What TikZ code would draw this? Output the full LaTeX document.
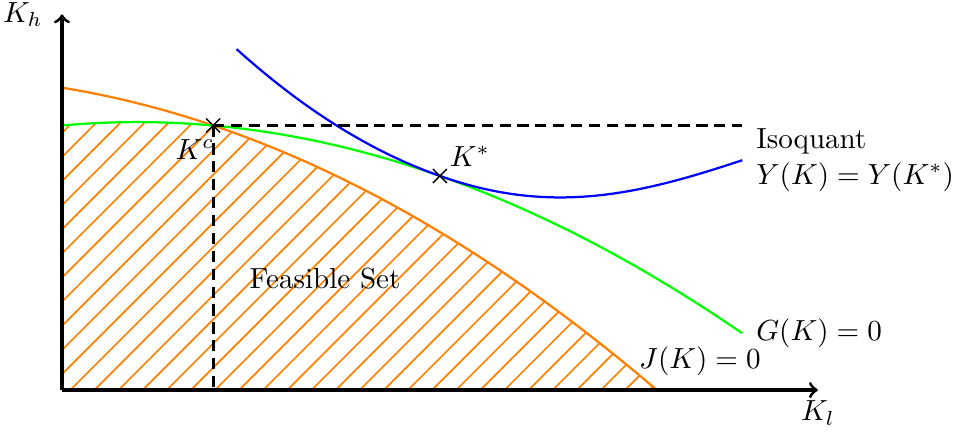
\RequirePackage{fix-cm}
\documentclass[tikz,border=0pt]{standalone}
\usepackage{amsmath}
\usepackage{tikz}
\usetikzlibrary{patterns.meta,shapes.misc}

\begin{document}
\begin{tikzpicture}[x=0.95cm,y=0.95cm,font=\fontsize{10.4}{12.8}\selectfont,
        axis/.style={line width=1.1pt,->},
        curve/.style={line width=0.8pt},
        guide/.style={line width=1pt,dash pattern=on 4pt off 2.4pt},
        marker/.style={cross out,draw,minimum size=4.5pt,inner sep=0pt,line width=0.5pt}]

        \useasboundingbox (-0.82,-0.61) rectangle (11.92,5.16);

        % Feasible set
        \fill[pattern={Lines[angle=45,distance=6.1pt,line width=0.6pt]},pattern color=orange]
            (0,0) -- plot[domain=0:2,samples=20,smooth] (\x,{3.5+0.09*\x-0.0456*\x^2+0.000176*\x^3})
            -- plot[domain=2:7.87,samples=40,smooth] (\x,{4-0.162*\x-0.044*\x^2}) -- cycle;

        % Points
        \coordinate (Kcpt) at (2,3.5);
        \coordinate (Kstar) at (5,2.832);
        \coordinate (Gend) at (9,0.745);
        \coordinate (Yend) at (9,3.04);

        % Curves
        \draw[curve,orange] plot[domain=0:7.87,samples=60,smooth] (\x,{4-0.162*\x-0.044*\x^2});
        \draw[curve,green] plot[domain=0:9,samples=60,smooth] (\x,{3.5+0.09*\x-0.0456*\x^2+0.000176*\x^3});
        \draw[curve,blue] (2.31,4.51) .. controls (3.21,3.70) and (4.1,3.148) .. (Kstar)
            .. controls (6.5,2.30) and (7.67,2.60) .. (Yend);

        % Guides
        \draw[guide] (Kcpt) -- (9,3.5);
        \draw[guide] (Kcpt) -- (2,0);

        % Axes
        \coordinate (O) at (0,0);
        \draw[axis] (O) -- (10,0) node[below] (Kl) {$K_l$};
        \draw[axis] (O) -- (0,4.97) node[left=3pt] (Kh) {$K_h$};

        % Markers
        \node[marker] (Kc) at (Kcpt) {};
        \node[marker] (Ks) at (Kstar) {};

        % Labels
        \node (Kclab) at ([xshift=-6.5pt,yshift=-8.6pt]Kc.center) {$K^c$};
        \node[above right] (Kslab) at (Ks.center) {$K^*$};
        \node[right=1.5pt,align=left] (Ylab) at (Yend) {Isoquant\\$Y(K)=Y(K^*)$};
        \node[right=1.5pt] (Glab) at (Gend) {$G(K)=0$};
        \node (Jlab) at (8.44,0.38) {$J(K)=0$};
        \node (Flab) at (3.48,1.48) {Feasible Set};

    \end{tikzpicture}
\end{document}
